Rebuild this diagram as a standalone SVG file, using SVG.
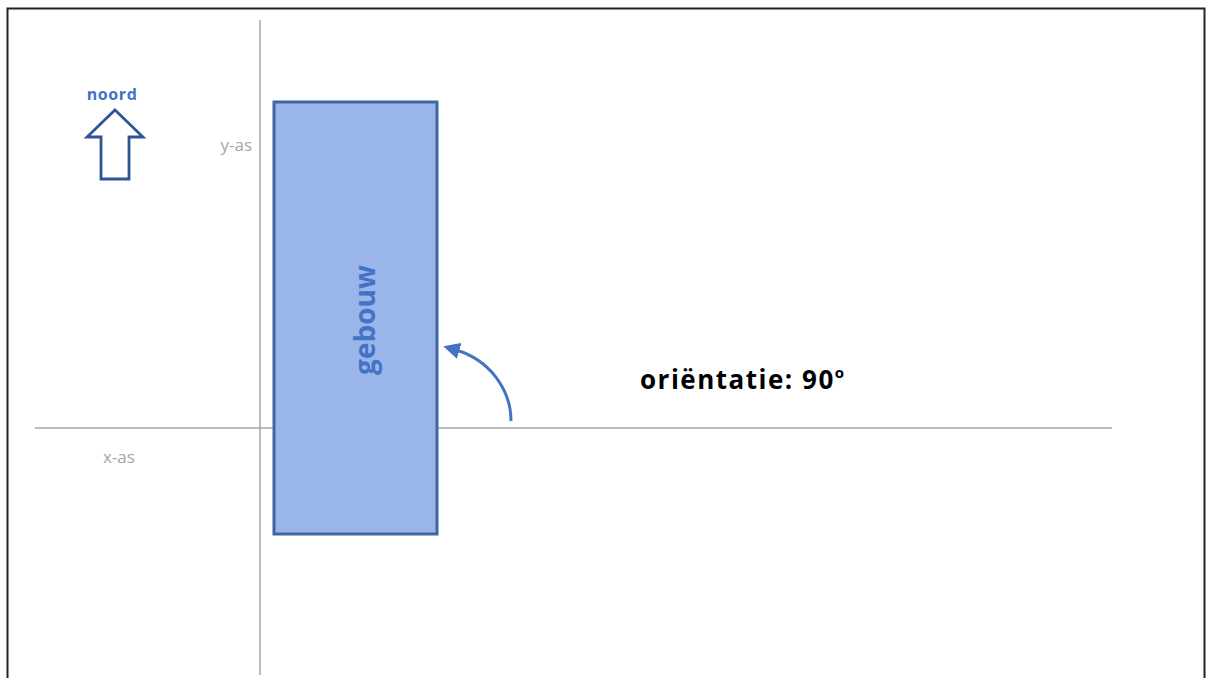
<svg xmlns="http://www.w3.org/2000/svg" width="1207" height="678" viewBox="0 0 1207 678">
<style>
.axis{stroke:#a6a6a6;stroke-width:1.5;fill:none}
.lbl{font-family:"Open Sans","Liberation Sans",sans-serif;fill:#a6a6a6;font-size:17px}
.blue{fill:#4472c4;font-family:"Open Sans","Liberation Sans",sans-serif;font-weight:bold}
</style>
<defs>
<marker id="ah" viewBox="0 0 10 10" refX="2" refY="5" markerWidth="5.5" markerHeight="5.5" orient="auto" markerUnits="strokeWidth">
<path d="M0,0 L10,5 L0,10 z" fill="#4472c4"/>
</marker>
</defs>
<rect x="0" y="0" width="1207" height="678" fill="#ffffff"/>
<path d="M7.5,690 V8.5 H1204.5 V690" fill="none" stroke="#222" stroke-width="2"/>
<g id="axes">
<line class="axis" x1="260" y1="20" x2="260" y2="675"/>
<line class="axis" x1="35" y1="428" x2="1112" y2="428"/>
<text class="lbl" x="252" y="151" text-anchor="end">y-as</text>
<text class="lbl" x="103" y="463">x-as</text>
</g>
<g id="noord">
<text class="blue" x="112" y="100" font-size="16" text-anchor="middle" letter-spacing="0.6" font-weight="600">noord</text>
<path d="M115,110 L143,137 L129,137 L129,179 L101,179 L101,137 L87,137 Z" fill="#fff" stroke="#2f5597" stroke-width="2.8" stroke-linejoin="miter"/>
</g>
<g id="gebouw">
<rect x="274" y="102" width="163" height="432" fill="#9ab5ea" stroke="#41679f" stroke-width="3"/>
<text class="blue" font-size="28" text-anchor="middle" transform="translate(375,320) rotate(-90)">gebouw</text>
</g>
<g id="connectors">
<path d="M511,421 C511,390 490,360 456,350" fill="none" stroke="#4472c4" stroke-width="3" marker-end="url(#ah)"/>
</g>
<g id="label">
<text x="640" y="389" font-family="Open Sans, Liberation Sans, sans-serif" font-weight="bold" font-size="26" letter-spacing="1.5" fill="#000">oriëntatie: 90<tspan font-size="15" dy="-11">o</tspan></text>
</g>
</svg>
